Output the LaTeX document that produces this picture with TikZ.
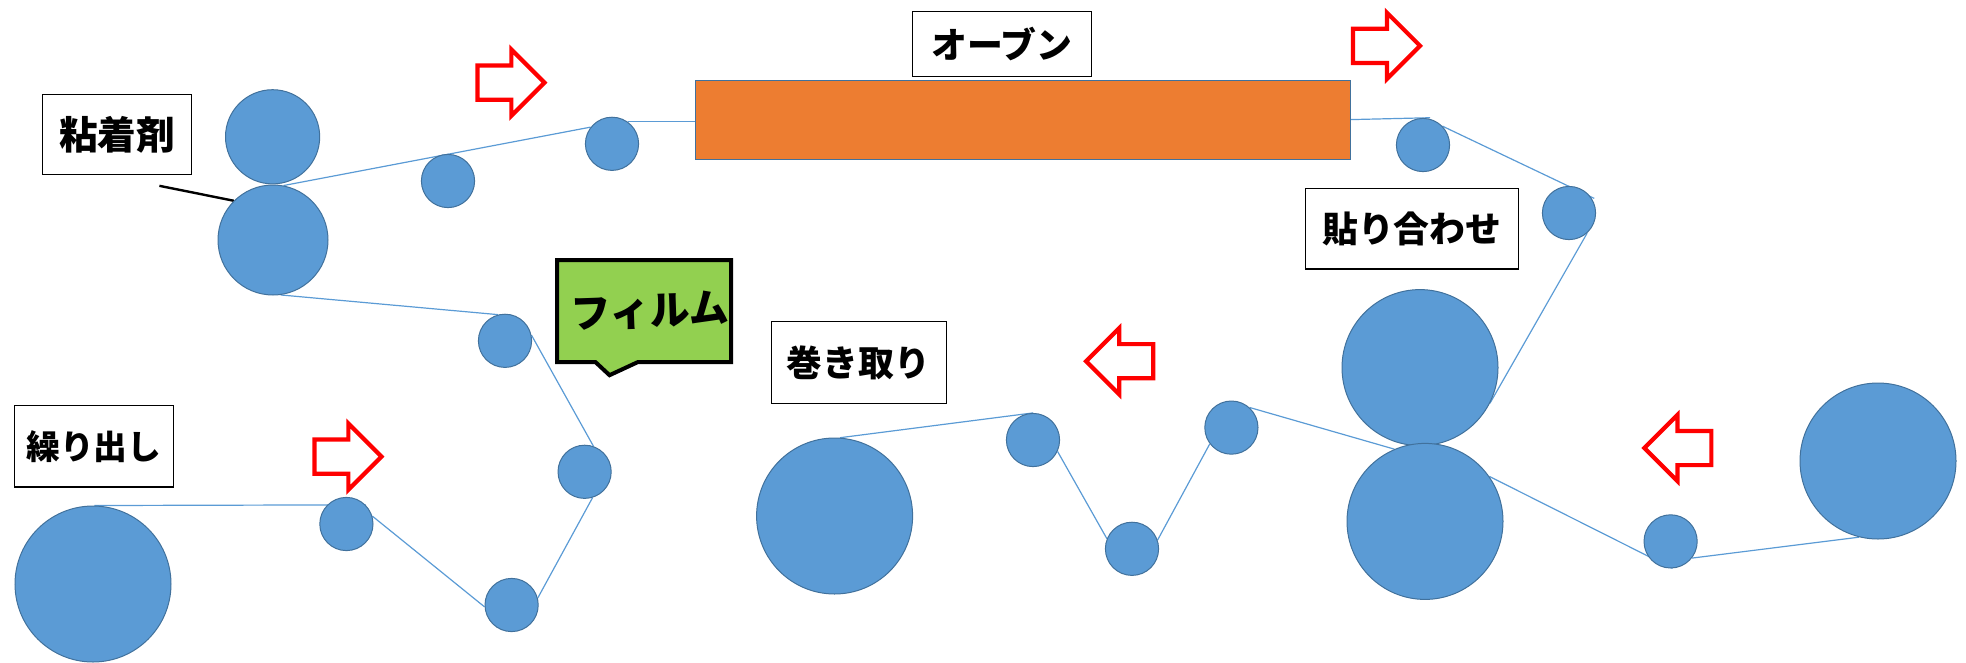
\documentclass[tikz,border=0pt]{standalone}
\usepackage{fontspec}
\setmainfont{Noto Sans CJK JP}
\usepackage{graphicx}
\usepackage{tikz}
\usetikzlibrary{shapes,backgrounds}
\definecolor{rollblue}{HTML}{5B9BD5}
\definecolor{rolledge}{HTML}{41719C}
\definecolor{ovenorange}{HTML}{ED7D31}
\definecolor{filmgreen}{HTML}{92D050}
\tikzset{
  roller/.style={draw=rolledge, fill=rollblue, circle, inner sep=0pt, line width=0.05cm, minimum size=2.66cm},
  bigroller/.style={roller, minimum size=7.8cm},
  belt/.style={draw=rollblue, line width=0.06cm},
  tag/.style={draw, fill=white, line width=0.06cm, inner sep=0pt, font=\fontsize{51}{51}\selectfont\bfseries},
  feed/.style={draw=red, fill=white, single arrow, line width=0.21cm, inner xsep=0pt, inner ysep=0.75cm, minimum height=3.35cm, single arrow head extend=0.8cm}
}

\begin{document}
\begin{tikzpicture}
\useasboundingbox (0,0) rectangle (98.3,-33.1);

\node[roller, minimum size=4.71cm, xshift=13.63cm, yshift=-6.84cm] (GA) {};
\node[roller, minimum size=5.5cm, xshift=13.65cm, yshift=-12cm] (GB) {};
\node[roller, xshift=22.4cm, yshift=-9.05cm] (P1) {};
\node[roller, xshift=30.6cm, yshift=-7.19cm] (P2) {};
\node[roller, xshift=25.25cm, yshift=-17.04cm] (P3) {};
\node[roller, xshift=29.23cm, yshift=-23.59cm] (P4) {};
\node[roller, xshift=25.58cm, yshift=-30.25cm] (P5) {};
\node[roller, xshift=17.32cm, yshift=-26.2cm] (P6) {};
\node[bigroller, xshift=4.65cm, yshift=-29.2cm] (U) {};
%============
\node[bigroller, xshift=41.73cm, yshift=-25.8cm] (W) {};
\node[roller, xshift=51.65cm, yshift=-22cm] (Q1) {};
\node[roller, xshift=56.6cm, yshift=-27.44cm] (Q2) {};
\node[roller, xshift=61.57cm, yshift=-21.38cm] (Q3) {};
\node[bigroller, xshift=71cm, yshift=-18.38cm] (NA) {};
\node[bigroller, xshift=71.25cm, yshift=-26.07cm] (NB) {};
\node[roller, xshift=83.53cm, yshift=-27.07cm] (Q4) {};
\node[bigroller, xshift=93.9cm, yshift=-23.05cm] (R) {};
\node[roller, xshift=71.15cm, yshift=-7.25cm] (Q5) {};
\node[roller, xshift=78.45cm, yshift=-10.65cm] (Q6) {};
\node[draw=rolledge, fill=ovenorange, line width=0.05cm, inner sep=0pt, minimum width=32.73cm, minimum height=3.95cm, xshift=51.14cm, yshift=-5.98cm] (O) {};
%============
\node[tag, minimum width=7.45cm, minimum height=4cm, font=\fontsize{55}{55}\selectfont\bfseries, xshift=5.85cm, yshift=-6.72cm] (LG) {粘着剤};
\node[tag, minimum width=8.93cm, minimum height=3.25cm, xshift=50.1cm, yshift=-2.21cm] (LO) {オーブン};
\node[tag, minimum width=7.95cm, minimum height=4.08cm, font=\fontsize{48}{48}\selectfont\bfseries, xshift=4.7cm, yshift=-22.31cm] (LU) {繰り出し};
\node[tag, minimum width=8.75cm, minimum height=4.07cm, xshift=42.93cm, yshift=-18.12cm] (LW) {巻き取り};
\node[tag, minimum width=10.63cm, minimum height=4.04cm, xshift=70.59cm, yshift=-11.43cm] (LN) {貼り合わせ};
\node[draw, fill=filmgreen, rectangle callout, line width=0.2cm, inner sep=0pt, minimum width=8.7cm, minimum height=5.1cm, callout relative pointer={(-0.35cm,-0.65cm)}, callout pointer width=2.1cm, font=\fontsize{57}{57}\selectfont\bfseries, xshift=32.2cm, yshift=-15.56cm] (LF) {\hspace*{0.6cm}\rotatebox{2}{フィルム}};
%============
\node[feed, xshift=25.12cm, yshift=-4.13cm] (A1) {};
\node[feed, xshift=68.9cm, yshift=-2.29cm] (A2) {};
\node[feed, xshift=16.97cm, yshift=-22.83cm] (A3) {};
\node[feed, shape border rotate=180, xshift=56.41cm, yshift=-18.06cm] (A4) {};
\node[feed, shape border rotate=180, xshift=84.32cm, yshift=-22.4cm] (A5) {};
\coordinate[xshift=7.97cm, yshift=-9.29cm] (LT);

\begin{scope}[on background layer]
\draw[belt] (U.89) -- (P6.45);
\draw[belt] (P6.17) -- (P5.184);
\draw[belt] (P5.15) -- (P4.-73);
\draw[belt] (P4.71) -- (P3.12);
\draw[belt] (P3.105) -- (GB.-82);
\draw[belt] (GB.79) -- (P2.142);
\draw[belt] (P2.55) -- (P2.55 -| O.west);
\draw[belt, shorten >=-0.35cm] (O.east) -- (Q5.north);
\draw[belt, shorten >=-0.2cm] (Q5.44) -- (Q6.37);
\draw[belt] (Q6.-48) -- (NA.-27);
\draw[belt] (NB.35) -- (Q4.-86);
\draw[belt] (Q4.-38) -- (R.-104);
\draw[belt] (Q3.48) -- (NB.113);
\draw[belt] (Q3.-143) -- (Q2.19);
\draw[belt] (Q2.158) -- (Q1.-25);
\draw[belt] (Q1.north) -- (W.86);
\draw[black, line width=0.12cm] (LT) -- (GB.135);
\end{scope}
\end{tikzpicture}
\end{document}
